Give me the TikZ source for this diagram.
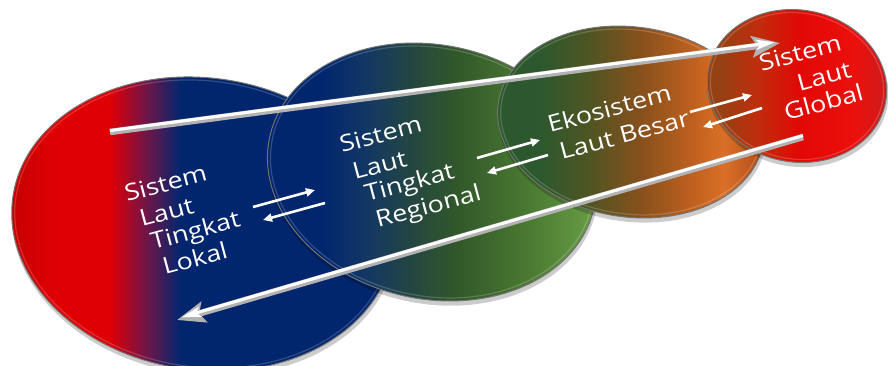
\documentclass[tikz,border=0pt]{standalone}
\usepackage{fontspec}
\setmainfont{Open Sans}
\newfontfamily\labfam[FakeStretch=1.17]{Open Sans}
\usetikzlibrary{arrows.meta}
% colours
\definecolor{rA}{RGB}{190,0,0}
\definecolor{rB}{RGB}{222,0,5}
\definecolor{pM}{RGB}{115,20,70}
\definecolor{nv}{RGB}{2,38,110}
\definecolor{nvL}{RGB}{25,60,130}
\definecolor{tA}{RGB}{18,55,100}
\definecolor{gA}{RGB}{38,72,62}
\definecolor{gB}{RGB}{50,88,42}
\definecolor{gC}{RGB}{75,122,50}
\definecolor{gD}{RGB}{98,150,65}
\definecolor{gE}{RGB}{112,162,78}
\definecolor{dg}{RGB}{45,88,45}
\definecolor{ol}{RGB}{78,85,35}
\definecolor{brA}{RGB}{135,80,28}
\definecolor{orA}{RGB}{192,96,30}
\definecolor{orB}{RGB}{218,112,40}
\definecolor{orC}{RGB}{180,78,25}
\definecolor{bw}{RGB}{150,65,20}
\definecolor{rbA}{RGB}{192,45,12}
\definecolor{rC}{RGB}{226,8,5}
\definecolor{rD}{RGB}{236,16,12}
\definecolor{rE}{RGB}{205,28,28}
\pgfdeclarehorizontalshading{shOne}{100bp}{color(0bp)=(rA); color(25bp)=(rA); color(31bp)=(rB); color(38.5bp)=(rB); color(42.8bp)=(pM); color(47.2bp)=(nv); color(72bp)=(nv); color(75bp)=(nvL); color(100bp)=(nvL)}
\pgfdeclarehorizontalshading{shTwo}{100bp}{color(0bp)=(nv); color(34.7bp)=(nv); color(40.6bp)=(tA); color(47.8bp)=(gA); color(53.6bp)=(gB); color(63.8bp)=(gC); color(71.1bp)=(gD); color(75bp)=(gE); color(100bp)=(gE)}
\pgfdeclarehorizontalshading{shThree}{100bp}{color(0bp)=(dg); color(34bp)=(dg); color(42.4bp)=(ol); color(51.7bp)=(brA); color(61bp)=(orA); color(66.6bp)=(orB); color(73.1bp)=(orC); color(100bp)=(orC)}
\pgfdeclarehorizontalshading{shFour}{100bp}{color(0bp)=(bw); color(30bp)=(bw); color(39.7bp)=(rbA); color(50.8bp)=(rC); color(64.7bp)=(rD); color(73bp)=(rE); color(100bp)=(rE)}
\newcommand\mydisc[6]{%
  \fill[black,opacity=.2,rotate around={#5:(#1,#2)}] (#1+1.5,#2+3.5) ellipse [x radius=#3pt+1pt, y radius=#4pt+1pt];
  \path[shade, shading=#6, draw=black!55, line width=1pt, rotate around={#5:(#1,#2)}] (#1,#2) ellipse [x radius=#3pt, y radius=#4pt];
  \draw[white, opacity=.18, line width=1.2pt, rotate around={#5:(#1,#2)}] (#1,#2) ellipse [x radius=#3pt-3pt, y radius=#4pt-3pt];
}
\begin{document}
\begin{tikzpicture}[x=1pt,y=-1pt,
  lbl/.style={text=white, font=\labfam\fontsize{23}{27}\selectfont, inner sep=0pt, rotate=15},
  bigarrow/.style={line width=6.5pt, draw=black!30, -{Stealth[length=28pt,width=21pt,inset=5pt]}},
  bighl/.style={line width=3pt, draw=white, shorten >=5pt, -{Stealth[length=19pt,width=10pt,inset=4pt]}},
  smallarrow/.style={draw=white, line width=2.6pt, -{Triangle[length=9pt,width=8pt]}}]
\useasboundingbox (0,0) rectangle (888,365);
% discs
\mydisc{203}{224}{192}{146}{-8}{shOne}
\mydisc{432}{172}{166}{127}{-12}{shTwo}
\mydisc{631}{122}{134}{95}{-8}{shThree}
\mydisc{797}{86}{90}{76}{-10}{shFour}
% big arrows
\coordinate (aS) at (110,132);
\coordinate (aE) at (780,43);
\coordinate (bS) at (803,137);
\coordinate (bE) at (177,320);
\draw[bigarrow] (aS) -- (aE);
\draw[bighl] ([yshift=1.4pt]aS) -- ([yshift=1.4pt]aE);
\draw[bigarrow] (bS) -- (bE);
\draw[bighl] ([yshift=1.4pt]bS) -- ([yshift=1.4pt]bE);
% small arrow pairs
\coordinate (p1a) at (253,207); \coordinate (p1b) at (315,190);
\coordinate (p1c) at (325,203); \coordinate (p1d) at (263,220);
\coordinate (p2a) at (477,158); \coordinate (p2b) at (540,140);
\coordinate (p2c) at (548,155); \coordinate (p2d) at (487,173);
\coordinate (p3a) at (690,112); \coordinate (p3b) at (752,95);
\coordinate (p3c) at (762,108); \coordinate (p3d) at (703,127);
\draw[smallarrow] (p1a) -- (p1b);
\draw[smallarrow] (p1c) -- (p1d);
\draw[smallarrow] (p2a) -- (p2b);
\draw[smallarrow] (p2c) -- (p2d);
\draw[smallarrow] (p3a) -- (p3b);
\draw[smallarrow] (p3c) -- (p3d);
% texts
\node[lbl, anchor=base west] (t1a) at (127,202) {Sistem};
\node[lbl, anchor=base west] (t1b) at (142,227) {Laut};
\node[lbl, anchor=base west] (t1c) at (153,250) {Tingkat};
\node[lbl, anchor=base west] (t1d) at (165,275) {Lokal};
\node[lbl, anchor=base west] (t2a) at (342,153) {Sistem};
\node[lbl, anchor=base west] (t2b) at (355,180) {Laut};
\node[lbl, anchor=base west] (t2c) at (367,202) {Tingkat};
\node[lbl, anchor=base west] (t2d) at (378,228) {Regional};
\node[lbl, anchor=base west] (t3a) at (550,133) {Ekosistem};
\node[lbl, anchor=base west] (t3b) at (562,160) {Laut Besar};
\node[lbl, anchor=base east] (t4a) at (843,50) {Sistem};
\node[lbl, anchor=base east] (t4b) at (853,77) {Laut};
\node[lbl, anchor=base east] (t4c) at (865,100) {Global};
\end{tikzpicture}
\end{document}
